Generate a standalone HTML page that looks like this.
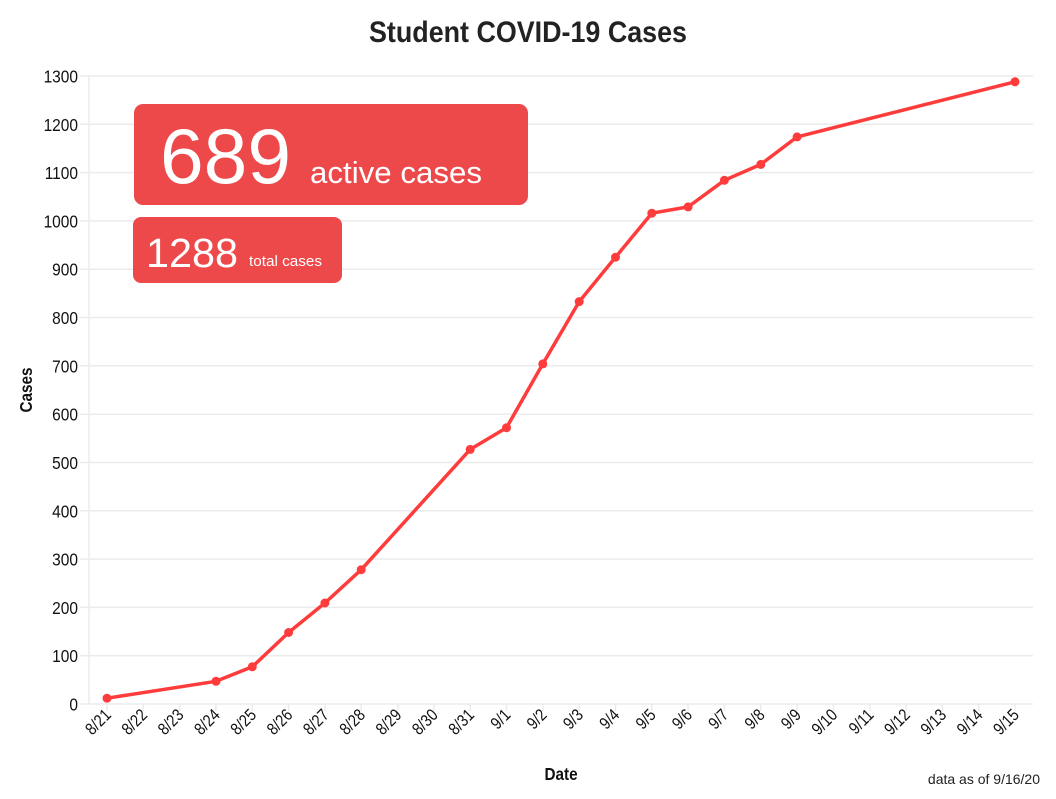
<!DOCTYPE html>
<html><head><meta charset="utf-8"><style>
html,body{margin:0;padding:0;background:#fff;}
.n{font-family:"Liberation Sans Narrow","Liberation Sans",sans-serif;}
.r{font-family:"Liberation Sans",sans-serif;}
</style></head><body>
<svg width="1056" height="794" viewBox="0 0 1056 794" xmlns="http://www.w3.org/2000/svg">
<rect width="1056" height="794" fill="#fff"/>
<text class="n" x="528" y="42" text-anchor="middle" font-size="30" font-weight="bold" fill="#222" textLength="318" lengthAdjust="spacingAndGlyphs">Student COVID-19 Cases</text>
<g stroke="#ebebeb" stroke-width="1.5">
<line x1="80" x2="1033" y1="704" y2="704"/><line x1="80" x2="1033" y1="655.7" y2="655.7"/><line x1="80" x2="1033" y1="607.4" y2="607.4"/><line x1="80" x2="1033" y1="559.1" y2="559.1"/><line x1="80" x2="1033" y1="510.8" y2="510.8"/><line x1="80" x2="1033" y1="462.5" y2="462.5"/><line x1="80" x2="1033" y1="414.2" y2="414.2"/><line x1="80" x2="1033" y1="365.8" y2="365.8"/><line x1="80" x2="1033" y1="317.5" y2="317.5"/><line x1="80" x2="1033" y1="269.2" y2="269.2"/><line x1="80" x2="1033" y1="220.9" y2="220.9"/><line x1="80" x2="1033" y1="172.6" y2="172.6"/><line x1="80" x2="1033" y1="124.3" y2="124.3"/><line x1="80" x2="1033" y1="76" y2="76"/>
<line x1="89" x2="89" y1="76" y2="704"/>
</g>
<g class="n" font-size="18" fill="#111" text-anchor="end" transform="scale(0.86,1)">
<text x="90.7" y="710.5">0</text><text x="90.7" y="662.2">100</text><text x="90.7" y="613.9">200</text><text x="90.7" y="565.6">300</text><text x="90.7" y="517.3">400</text><text x="90.7" y="469">500</text><text x="90.7" y="420.7">600</text><text x="90.7" y="372.3">700</text><text x="90.7" y="324">800</text><text x="90.7" y="275.7">900</text><text x="90.7" y="227.4">1000</text><text x="90.7" y="179.1">1100</text><text x="90.7" y="130.8">1200</text><text x="90.7" y="82.5">1300</text>
</g>
<g stroke="#ebebeb" stroke-width="1.5" id="ticks"></g>
<g class="n" font-size="17" fill="#111" text-anchor="end" id="xl"></g>
<text class="n" transform="translate(32,390) rotate(-90) scale(0.85,1)" text-anchor="middle" font-size="18" font-weight="bold" fill="#111">Cases</text>
<text class="n" transform="translate(561,780) scale(0.85,1)" text-anchor="middle" font-size="18" font-weight="bold" fill="#111">Date</text>
<text class="r" x="1040" y="784" text-anchor="end" font-size="14" fill="#222">data as of 9/16/20</text>
<polyline fill="none" stroke="#ff3c3c" stroke-width="3.5" stroke-linejoin="round" points="107,698.2 216,681.3 252.3,666.8 288.6,632.5 324.9,603 361.2,569.7 470.2,449.4 506.5,427.7 542.8,363.9 579.2,301.6 615.5,257.2 651.8,213.2 688.1,206.9 724.4,180.3 760.8,164.4 797.1,136.9 1015,81.8"/>
<g fill="#ff3c3c">
<circle cx="107" cy="698.2" r="4.5"/><circle cx="216" cy="681.3" r="4.5"/><circle cx="252.3" cy="666.8" r="4.5"/><circle cx="288.6" cy="632.5" r="4.5"/><circle cx="324.9" cy="603" r="4.5"/><circle cx="361.2" cy="569.7" r="4.5"/><circle cx="470.2" cy="449.4" r="4.5"/><circle cx="506.5" cy="427.7" r="4.5"/><circle cx="542.8" cy="363.9" r="4.5"/><circle cx="579.2" cy="301.6" r="4.5"/><circle cx="615.5" cy="257.2" r="4.5"/><circle cx="651.8" cy="213.2" r="4.5"/><circle cx="688.1" cy="206.9" r="4.5"/><circle cx="724.4" cy="180.3" r="4.5"/><circle cx="760.8" cy="164.4" r="4.5"/><circle cx="797.1" cy="136.9" r="4.5"/><circle cx="1015" cy="81.8" r="4.5"/>
</g>
<rect x="134" y="104" width="394" height="101" rx="9" fill="#ee494a"/>
<text class="r" x="160" y="183" font-size="78" fill="#fff" textLength="131" lengthAdjust="spacingAndGlyphs">689</text>
<text class="r" x="310" y="183" font-size="31" fill="#fff" textLength="172" lengthAdjust="spacingAndGlyphs">active cases</text>
<rect x="133" y="217" width="209" height="66" rx="8" fill="#ee494a"/>
<text class="r" x="146" y="267" font-size="41" fill="#fff" textLength="92" lengthAdjust="spacingAndGlyphs">1288</text>
<text class="r" x="249" y="266" font-size="15" fill="#fff" textLength="73" lengthAdjust="spacingAndGlyphs">total cases</text>
<script>
var t=document.getElementById('ticks'),l=document.getElementById('xl'),ns='http://www.w3.org/2000/svg';
for(var d=0;d<26;d++){var x=107+d*36.32;
var ln=document.createElementNS(ns,'line');ln.setAttribute('x1',x);ln.setAttribute('x2',x);ln.setAttribute('y1',704);ln.setAttribute('y2',711);t.appendChild(ln);
var lab=d<=10?('8/'+(21+d)):('9/'+(d-10));
var tx=document.createElementNS(ns,'text');tx.setAttribute('transform','translate('+(x+5)+',716) rotate(-45) scale(0.85,1)');tx.textContent=lab;l.appendChild(tx);}
</script>
</svg>
</body></html>
